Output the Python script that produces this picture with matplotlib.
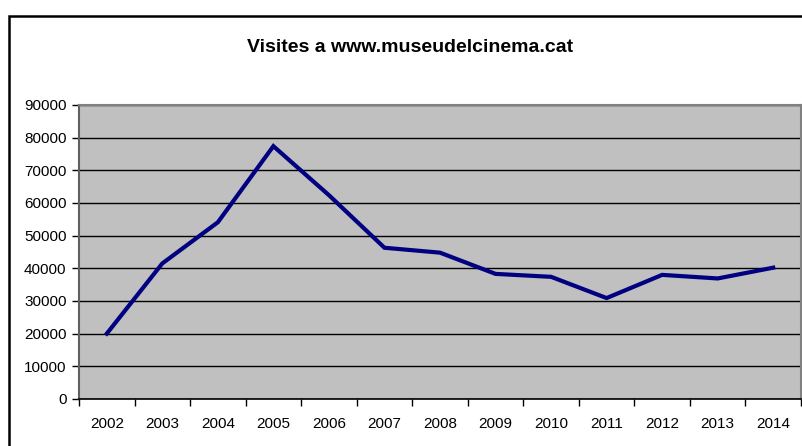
import matplotlib.pyplot as plt
from matplotlib.patches import Rectangle

years = ['2002', '2003', '2004', '2005', '2006', '2007', '2008',
         '2009', '2010', '2011', '2012', '2013', '2014']
visits = [20000, 41500, 54100, 77400, 62400, 46300, 44800,
          38300, 37400, 30900, 38000, 36900, 40200]

plt.rcParams['font.family'] = ['Liberation Sans', 'DejaVu Sans']

W, H = 803, 446
fig = plt.figure(figsize=(W / 100, H / 100), dpi=100)
fig.patch.set_facecolor('white')

# outer chart frame (runs off right and bottom edge)
fig.patches.append(Rectangle((8.5 / W, -0.1), 1.0, 1 - 15.5 / H + 0.1,
                             transform=fig.transFigure, fill=False,
                             edgecolor='black', linewidth=1.8))

ax = fig.add_axes([79 / W, 1 - 399 / H, (801 - 79) / W, (399 - 105) / H])
ax.set_facecolor('#c0c0c0')

x = range(len(years))
ax.plot(x, visits, color='#000080', linewidth=3, solid_joinstyle='miter',
        zorder=3)

ax.set_xlim(-0.5, len(years) - 0.5)
ax.set_ylim(0, 90000)
ax.set_yticks(range(0, 90001, 10000))
ax.set_yticklabels([str(v) for v in range(0, 90001, 10000)])
ax.set_xticks(list(x))
ax.set_xticklabels(years)
ax.set_xticks([i - 0.5 for i in range(len(years) + 1)], minor=True)
ax.tick_params(axis='x', which='major', length=0, pad=13, labelsize=11)
ax.tick_params(axis='x', which='minor', length=5, width=1, direction='out',
               color='black')
ax.tick_params(axis='y', length=5, width=1, direction='out', pad=4,
               labelsize=11, color='black')

ax.yaxis.grid(True, color='black', linewidth=1)
ax.set_axisbelow(True)
for s in ['top', 'right']:
    ax.spines[s].set_color('#808080')
    ax.spines[s].set_linewidth(1.5)
ax.spines['left'].set_color('#606060')
ax.spines['left'].set_linewidth(1.5)
ax.spines['bottom'].set_color('black')
ax.spines['bottom'].set_linewidth(1.2)

fig.text(410 / W, 1 - 48 / H, 'Visites a www.museudelcinema.cat',
         ha='center', va='center', fontsize=14, fontweight='bold')

fig.savefig('out.png', dpi=100)
